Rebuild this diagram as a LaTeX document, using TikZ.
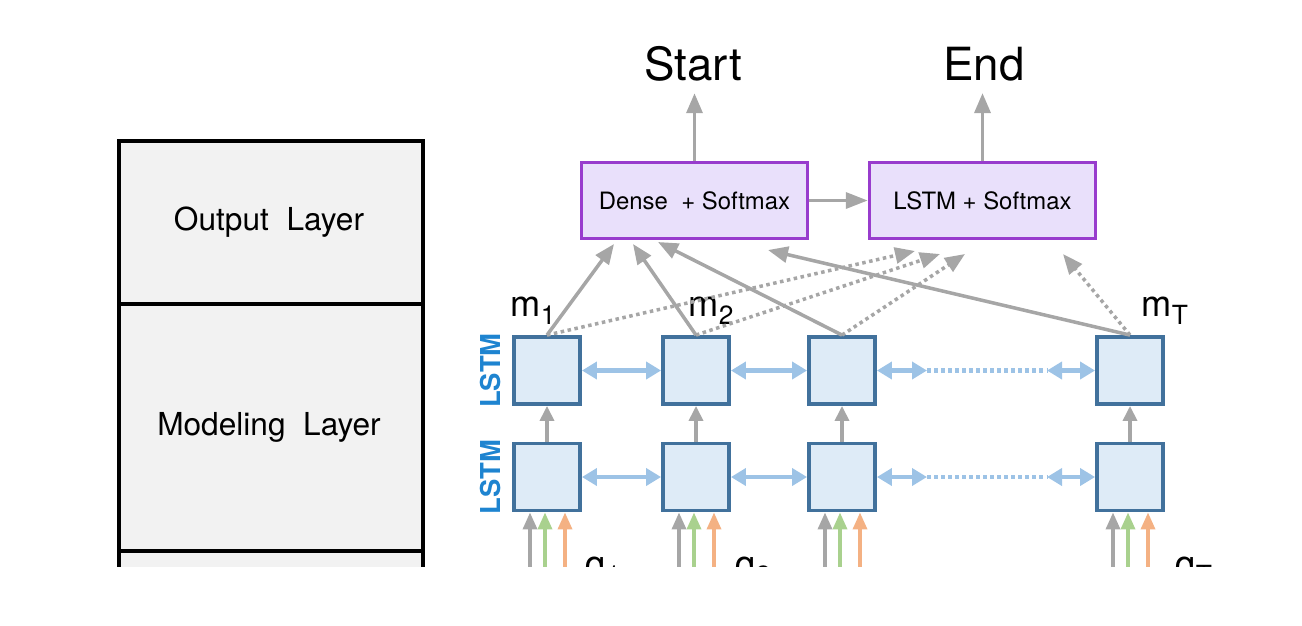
\documentclass[tikz,border=0pt]{standalone}
\usepackage{fontspec}
\setmainfont{TeX Gyre Heros}
\usetikzlibrary{arrows.meta}

\definecolor{arrowgray}{RGB}{166,166,166}
\definecolor{cellfill}{RGB}{222,235,247}
\definecolor{celledge}{RGB}{65,113,156}
\definecolor{linkblue}{RGB}{157,195,230}
\definecolor{lstmblue}{RGB}{30,132,208}
\definecolor{outfill}{RGB}{233,224,251}
\definecolor{outedge}{RGB}{152,60,205}
\definecolor{ingreen}{RGB}{169,209,142}
\definecolor{inorange}{RGB}{244,177,131}
\definecolor{layerfill}{RGB}{242,242,242}

\newcommand{\lowsub}[1]{\raisebox{-0.08cm}{\fontsize{7.5}{8}\selectfont #1}}

\tikzset{
  cell/.style={draw=celledge, fill=cellfill, line width=1.1pt, minimum width=0.66cm, minimum height=0.67cm, inner sep=0pt},
  outbox/.style={draw=outedge, fill=outfill, line width=1pt, minimum width=2.26cm, minimum height=0.76cm, inner sep=0pt, font=\fontsize{6.8}{8}\selectfont},
  garrow/.style={draw=arrowgray, line width=1pt, -{Triangle[length=0.2cm, width=0.16cm]}},
  gdots/.style={garrow, dash pattern=on 1pt off 1pt},
  blink/.style={draw=linkblue, line width=1.15pt, {Triangle[length=0.15cm, width=0.17cm]}-{Triangle[length=0.15cm, width=0.17cm]}},
  inarrow/.style={line width=1pt, {Triangle[length=0.17cm, width=0.14cm]}-},
  lstmlabel/.style={rotate=90, text=lstmblue, font=\bfseries\fontsize{7.8}{9}\selectfont, inner sep=0pt},
  mlabel/.style={anchor=base west, inner sep=0pt, font=\fontsize{10.3}{12}\selectfont}
}

\begin{document}
\begin{tikzpicture}
    \useasboundingbox (0,0) rectangle (13.02,6.25);

    % left column of layers (cut at the bottom)
    \begin{scope}
        \clip (0,0.59) rectangle (13.02,6.25);
        \filldraw[fill=layerfill, line width=1pt] (1.19,4.84) rectangle (4.23,-0.5);
        \draw[line width=1pt] (1.19,3.21) -- (4.23,3.21);
        \draw[line width=1pt] (1.19,0.74) -- (4.23,0.74);

        % inputs to the lower LSTM row
        \foreach \i/\x in {1/5.47, 2/6.96, 3/8.42, 4/11.30} {
            \node[cell] (l\i) at (\x, 1.48) {};
            \draw[inarrow, arrowgray] ([xshift=-0.17cm]l\i.south) -- ++(0,-0.8);
            \draw[inarrow, ingreen] ([xshift=-0.02cm]l\i.south) -- ++(0,-0.8);
            \draw[inarrow, inorange] ([xshift=0.18cm]l\i.south) -- ++(0,-0.8);
        }
        \node[mlabel] (q1) at (5.85, 0.49) {q\lowsub{1}};
        \node[mlabel] (q2) at (7.35, 0.49) {q\lowsub{2}};
        \node[mlabel] (qT) at (11.75, 0.49) {q\lowsub{T}};
    \end{scope}

    \node[anchor=base] (outlayer) at (2.69, 3.95) {\fontsize{9}{10}\selectfont Output\ \ Layer};
    \node[anchor=base] (modlayer) at (2.69, 1.90) {\fontsize{9}{10}\selectfont Modeling\ \ Layer};

    % output boxes
    \node[outbox] (dense) at (6.945, 4.245) {Dense\ \ + Softmax};
    \node[outbox] (lstmout) at (9.825, 4.245) {LSTM + Softmax};
    \node[anchor=base, font=\fontsize{13}{15}\selectfont] (start) at (6.93, 5.45) {Start};
    \node[anchor=base, font=\fontsize{13}{15}\selectfont] (end) at (9.84, 5.45) {End};
    \draw[garrow] (dense.north) -- (dense.north |- start.south);
    \draw[garrow] (lstmout.north) -- (lstmout.north |- end.south);
    \draw[garrow, -{Triangle[length=0.22cm, width=0.16cm]}] (dense) -- (lstmout);

    % upper LSTM row
    \foreach \i/\x in {1/5.47, 2/6.96, 3/8.42, 4/11.30} {
        \node[cell] (u\i) at (\x, 2.545) {};
        \draw[garrow, -{Triangle[length=0.15cm, width=0.14cm]}] (l\i) -- (u\i);
    }
    \node[lstmlabel] (lab1) at (4.91, 2.545) {LSTM};
    \node[lstmlabel] (lab2) at (4.91, 1.48) {LSTM};

    % bidirectional links
    \coordinate (gapl) at (9.27, 2.545);
    \coordinate (gapr) at (10.47, 2.545);
    \coordinate (gapll) at (9.27, 1.48);
    \coordinate (gaprr) at (10.47, 1.48);
    \draw[blink] (u1) -- (u2);
    \draw[blink] (u2) -- (u3);
    \draw[blink] (u3) -- (gapl);
    \draw[linkblue, line width=1.15pt, dash pattern=on 1pt off 1pt] (gapl) -- (gapr);
    \draw[blink] (gapr) -- (u4);
    \draw[blink] (l1) -- (l2);
    \draw[blink] (l2) -- (l3);
    \draw[blink] (l3) -- (gapll);
    \draw[linkblue, line width=1.15pt, dash pattern=on 1pt off 1pt] (gapll) -- (gaprr);
    \draw[blink] (gaprr) -- (l4);

    \node[mlabel] (m1) at (5.10, 3.09) {m\lowsub{1}};
    \node[mlabel] (m2) at (6.88, 3.09) {m\lowsub{2}};
    \node[mlabel] (mT) at (11.41, 3.09) {m\lowsub{T}};

    % attention of the output layer on m
    \coordinate (s1) at (6.14, 3.81);
    \coordinate (s2) at (6.33, 3.81);
    \coordinate (s3) at (6.58, 3.83);
    \coordinate (s4) at (7.68, 3.75);
    \coordinate (d1) at (9.15, 3.74);
    \coordinate (d2) at (9.40, 3.71);
    \coordinate (d3) at (9.65, 3.71);
    \coordinate (d4) at (10.63, 3.71);
    \foreach \i in {1,2,3,4} {
        \draw[gdots] (u\i.north) -- (d\i);
        \draw[garrow] (u\i.north) -- (s\i);
    }
\end{tikzpicture}
\end{document}
